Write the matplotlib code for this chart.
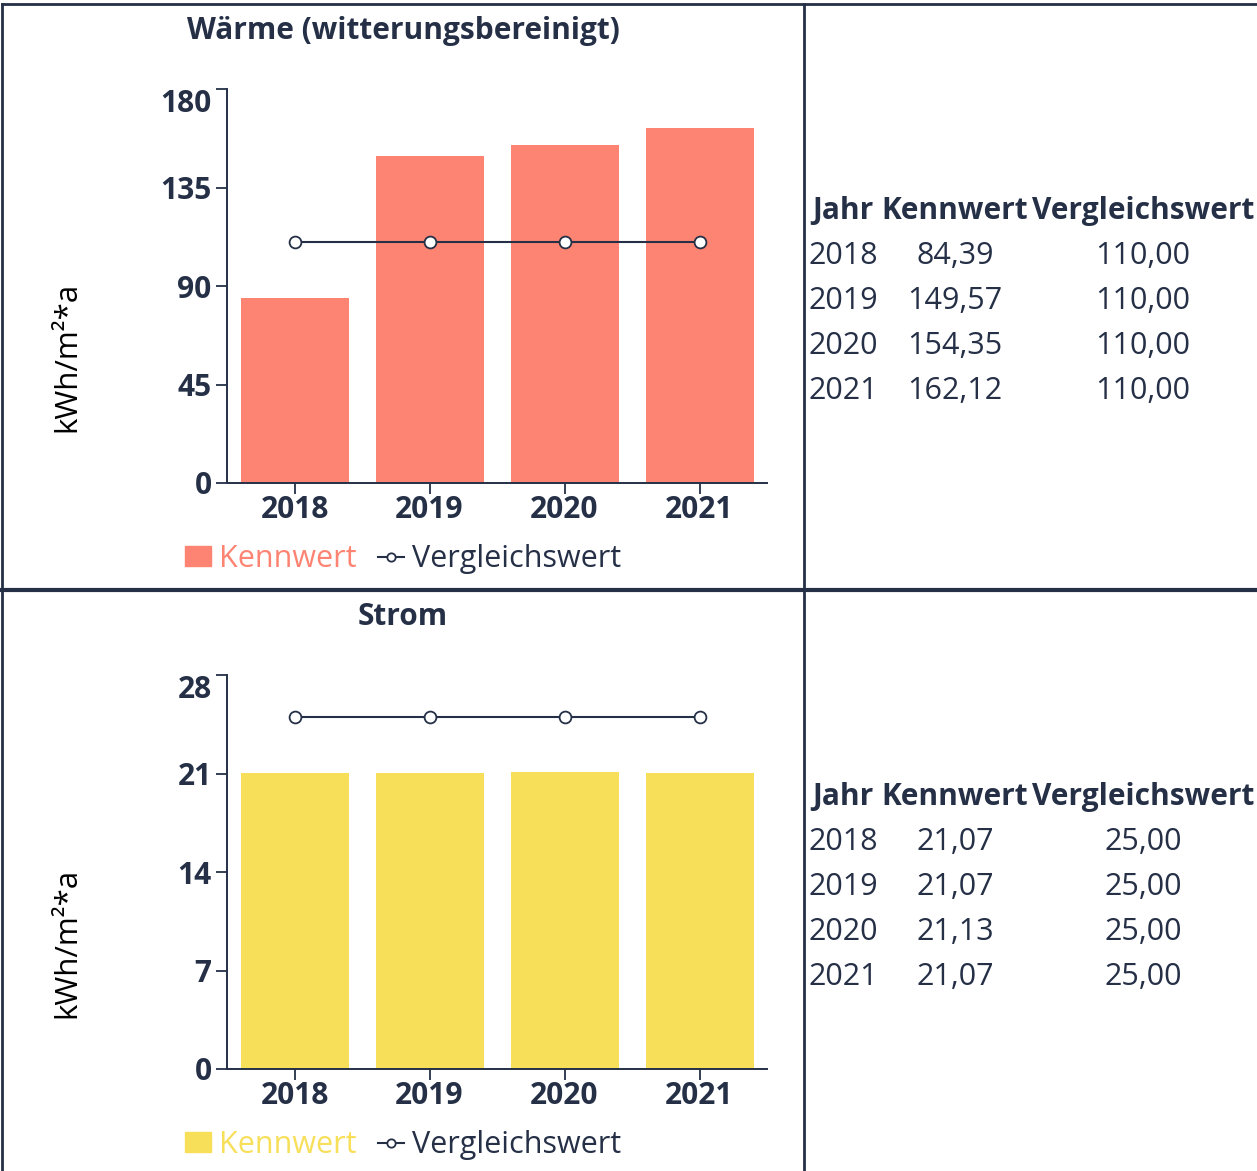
import numpy as np
import matplotlib.pyplot as plt
from matplotlib.lines import Line2D
from matplotlib.patches import Patch

plt.rcParams['font.family'] = ['Open Sans', 'DejaVu Sans']

NAVY = '#253047'
SALMON = '#FD8472'
YELLOW = '#F7DF5A'

years = ['2018', '2019', '2020', '2021']

waerme_title = 'Wärme (witterungsbereinigt)'
waerme_kennwert = [84.39, 149.57, 154.35, 162.12]
waerme_vergleich = [110.0, 110.0, 110.0, 110.0]
waerme_ticks = [0, 45, 90, 135, 180]

strom_title = 'Strom'
strom_kennwert = [21.07, 21.07, 21.13, 21.07]
strom_vergleich = [25.0, 25.0, 25.0, 25.0]
strom_ticks = [0, 7, 14, 21, 28]

W, H = 1257, 1171
fig = plt.figure(figsize=(W / 100, H / 100), dpi=100)


def fx(px):
    return px / W


def fy(py):
    return 1 - py / H


def draw_chart(top_px, title, kennwert, vergleich, ticks, color):
    bottom_px = top_px + 394
    ax = fig.add_axes([fx(227), fy(bottom_px), fx(767) - fx(227), (bottom_px - top_px) / H])
    x = np.arange(len(years))
    ax.bar(x, kennwert, width=0.8, color=color, zorder=1)
    ax.plot(x, vergleich, color=NAVY, lw=1.5, marker='o', ms=8.5,
            mfc='white', mec=NAVY, mew=1.3, zorder=3)
    ax.set_xlim(-0.5, 3.5)
    ax.set_ylim(0, ticks[-1])
    ax.set_yticks(ticks)
    ax.set_xticks(x)
    ax.set_xticklabels(years)
    for s in ['top', 'right']:
        ax.spines[s].set_visible(False)
    for s in ['left', 'bottom']:
        ax.spines[s].set_color(NAVY)
        ax.spines[s].set_linewidth(1.4)
    ax.tick_params(axis='both', colors=NAVY, length=8, width=1.3, labelsize=21.5, pad=3)
    ax.tick_params(axis='x', pad=1)
    for lab in ax.get_xticklabels() + ax.get_yticklabels():
        lab.set_fontweight('bold')
    # topmost tick label hangs below its tick
    ax.get_yticklabels()[-1].set_verticalalignment('top')

    # y label, title and legend placed relative to the cell
    fig.text(fx(67), fy(top_px + 268), 'kWh/m²*a', rotation=90, fontsize=22.5,
             ha='center', va='center', color='black')
    fig.text(fx(403), fy(top_px - 58), title, fontsize=21.5, fontweight='bold',
             color=NAVY, ha='center', va='center')
    handles = [Patch(color=color, label='Kennwert'),
               Line2D([], [], color=NAVY, lw=1.5, marker='o', ms=6, mfc='white',
                      mec=NAVY, mew=1.3, label='Vergleichswert')]
    leg = fig.legend(handles=handles, loc='center', bbox_to_anchor=(fx(403), fy(top_px + 470)),
                     ncol=2, frameon=False, fontsize=22, handlelength=0.85,
                     handletextpad=0.26, columnspacing=0.69, handleheight=0.65,
                     borderpad=0, borderaxespad=0)
    leg.get_texts()[0].set_color(color)
    leg.get_texts()[1].set_color(NAVY)
    return ax


def draw_table(top_px, kennwert, vergleich):
    col_x = [843, 955, 1143]
    headers = ['Jahr', 'Kennwert', 'Vergleichswert']
    for cx, h in zip(col_x, headers):
        fig.text(fx(cx), fy(top_px + 3), h, fontsize=21.5, fontweight='bold', color=NAVY,
                 ha='center', va='center')
    for i, yr in enumerate(years):
        yy = fy(top_px + 3 + 45 * (i + 1))
        vals = [yr, f'{kennwert[i]:.2f}'.replace('.', ','), f'{vergleich[i]:.2f}'.replace('.', ',')]
        for cx, v in zip(col_x, vals):
            fig.text(fx(cx), yy, v, fontsize=22, color=NAVY, ha='center', va='center')


draw_chart(89, waerme_title, waerme_kennwert, waerme_vergleich, waerme_ticks, SALMON)
draw_chart(675, strom_title, strom_kennwert, strom_vergleich, strom_ticks, YELLOW)
draw_table(208, waerme_kennwert, waerme_vergleich)
draw_table(794, strom_kennwert, strom_vergleich)

# cell borders
border = dict(color=NAVY, transform=fig.transFigure)
fig.add_artist(Line2D([fx(2), 1], [fy(4), fy(4)], lw=2, **border))
fig.add_artist(Line2D([fx(2), 1], [fy(590), fy(590)], lw=3, **border))
fig.add_artist(Line2D([fx(2), fx(2)], [fy(4), 0], lw=2, **border))
fig.add_artist(Line2D([fx(804), fx(804)], [fy(4), 0], lw=2, **border))

fig.savefig('out.png', dpi=100)
